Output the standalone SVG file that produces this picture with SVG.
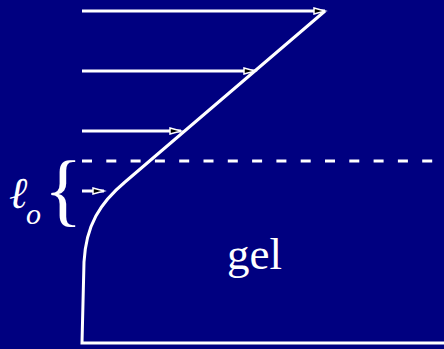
<svg xmlns="http://www.w3.org/2000/svg" width="444" height="349" viewBox="0 0 444 349">
<style>
.ln{stroke:#fff;stroke-width:3;fill:none}
.ar{stroke:#fff;stroke-width:3;fill:none;marker-end:url(#ah)}
.t{fill:#fff;font-family:"Liberation Serif","Times New Roman",serif}
</style>
<defs>
<marker id="ah" markerUnits="userSpaceOnUse" markerWidth="16" markerHeight="10" refX="12" refY="4" orient="auto" overflow="visible">
<path d="M1,1 L12,4 L1,7 Z" fill="#000" stroke="#fff" stroke-width="1.5"/>
</marker>
</defs>
<rect width="444" height="349" fill="#000080"/>
<g id="connectors">
<path class="ar" d="M82,11 H325"/>
<path class="ar" d="M82,71 H255"/>
<path class="ar" d="M82,131 H181"/>
<path class="ar" d="M82,191 H104"/>
</g>
<g id="profile">
<path class="ln" d="M325,11 L125,182 C100,203 86,225 84,262 L82,343 L444,343"/>
</g>
<g id="boundary">
<path class="ln" d="M82,161 H444" stroke-dasharray="10 14.3"/>
</g>
<g id="label-lo">
<text class="t" x="9" y="208" font-size="44" font-style="italic">ℓ</text>
<text class="t" x="26" y="224" font-size="30" font-style="italic">o</text>
<text class="t" x="44" y="216" font-size="80">{</text>
</g>
<g id="gel">
<text class="t" x="227" y="269" font-size="45">gel</text>
</g>
</svg>
